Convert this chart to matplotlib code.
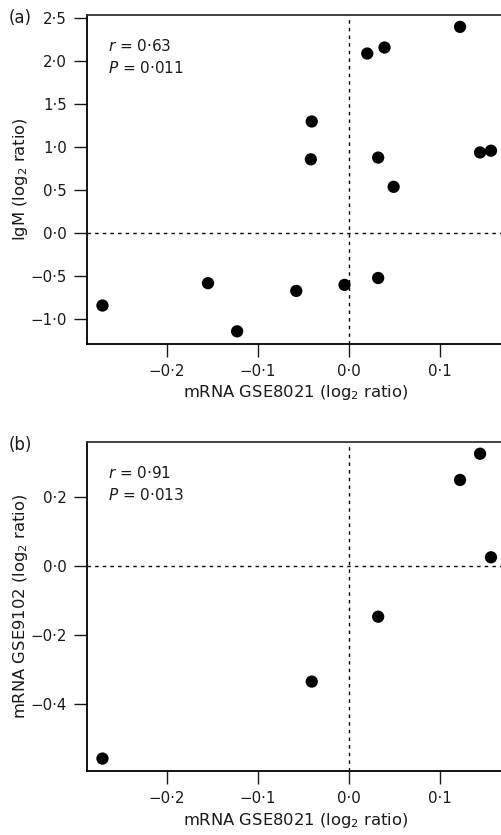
import matplotlib
matplotlib.use("Agg")
import matplotlib.pyplot as plt
from matplotlib.ticker import FuncFormatter

plt.rcParams["font.family"] = ["DejaVu Sans"]
plt.rcParams["mathtext.fontset"] = "dejavusans"

# panel (a): mRNA GSE8021 vs IgM
a_x = [0.122, 0.020, 0.039, -0.041, -0.042, 0.032, 0.049, 0.144, 0.156,
       -0.271, -0.155, -0.123, -0.058, -0.005, 0.032]
a_y = [2.40, 2.09, 2.16, 1.30, 0.86, 0.88, 0.54, 0.94, 0.96,
       -0.84, -0.58, -1.14, -0.67, -0.60, -0.52]

# panel (b): mRNA GSE8021 vs mRNA GSE9102
b_x = [0.144, 0.122, 0.156, 0.032, -0.041, -0.271]
b_y = [0.324, 0.248, 0.024, -0.148, -0.336, -0.559]

x_ticks = [-0.2, -0.1, 0.0, 0.1]
a_yticks = [-1.0, -0.5, 0.0, 0.5, 1.0, 1.5, 2.0, 2.5]
b_yticks = [-0.4, -0.2, 0.0, 0.2]

panels = [
    ("(a)", a_x, a_y, a_yticks, (-1.284, 2.538), "IgM (log$_2$ ratio)",
     "$r$ = 0·63", "$P$ = 0·011"),
    ("(b)", b_x, b_y, b_yticks, (-0.595, 0.358), "mRNA GSE9102 (log$_2$ ratio)",
     "$r$ = 0·91", "$P$ = 0·013"),
]


def fmt(v, _pos):
    s = f"{v:.1f}".replace(".", "·")
    if s.startswith("-"):
        s = "\u2212" + s[1:]
    if s == "\u22120·0":
        s = "0·0"
    return s


W, H = 502, 835
fig = plt.figure(figsize=(W / 100, H / 100), dpi=100)
rects = [(15, 343.7), (442, 771)]
TICK_FS = 10.8
LAB_FS = 11.8

for (lab, xs, ys, yt, ylim, ylab, t1, t2), (top, bot) in zip(panels, rects):
    ax = fig.add_axes([87 / W, 1 - bot / H, (505 - 87) / W, (bot - top) / H])
    ax.axvline(0, color="black", lw=1, ls=(0, (2.5, 3)), zorder=1)
    ax.axhline(0, color="black", lw=1, ls=(0, (2.5, 3)), zorder=1)
    ax.scatter(xs, ys, s=78, color="black", edgecolors="none", zorder=3)
    ax.set_xlim(-0.288, 0.1714)
    ax.set_ylim(*ylim)
    ax.set_xticks(x_ticks)
    ax.set_yticks(yt)
    ax.xaxis.set_major_formatter(FuncFormatter(fmt))
    ax.yaxis.set_major_formatter(FuncFormatter(fmt))
    ax.tick_params(direction="out", length=9.5, width=1, labelsize=TICK_FS,
                   pad=5, colors="#1a1a1a")
    for sp in ax.spines.values():
        sp.set_linewidth(1.3)
    ax.spines["top"].set_color("#333333")
    ax.set_xlabel("mRNA GSE8021 (log$_2$ ratio)", fontsize=LAB_FS, va="center",
                  color="#1a1a1a")
    ax.xaxis.set_label_coords(0.5, -49 / (bot - top))
    ax.set_ylabel(ylab, fontsize=LAB_FS, va="center", color="#1a1a1a")
    ax.yaxis.set_label_coords(-67 / 418, 0.5)
    ax.text(0.05, 0.905, t1, transform=ax.transAxes, fontsize=11, va="center",
            color="#1a1a1a")
    ax.text(0.05, 0.838, t2, transform=ax.transAxes, fontsize=11, va="center",
            color="#1a1a1a")
    fig.text(9 / W, 1 - (top + 3) / H, lab, fontsize=12, va="center",
             color="#1a1a1a")

fig.savefig("out.png", dpi=100)
